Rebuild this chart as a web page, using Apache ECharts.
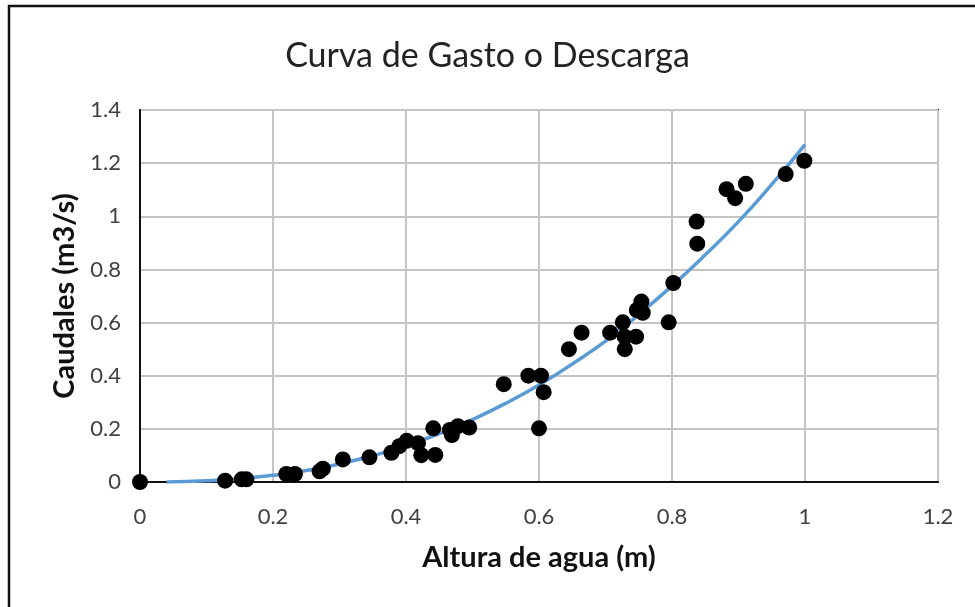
<!DOCTYPE html>
<html>
<head>
<meta charset="utf-8">
<script src="https://cdn.jsdelivr.net/npm/echarts@6/dist/echarts.min.js"></script>
<style>html,body{margin:0;padding:0;background:#fff;}#c{width:975px;height:607px;}</style>
</head>
<body>
<div id="c"></div>
<script>
var chartTitle = "Curva de Gasto o Descarga";
var xName = "Altura de agua (m)";
var yName = "Caudales (m3/s)";
var alturas = [0, 0.128, 0.153, 0.16, 0.22, 0.233, 0.27, 0.275, 0.305, 0.345, 0.378, 0.39, 0.401, 0.418, 0.423, 0.444, 0.441, 0.466, 0.469, 0.478, 0.495, 0.547, 0.584, 0.603, 0.607, 0.6, 0.645, 0.664, 0.707, 0.726, 0.729, 0.729, 0.746, 0.747, 0.754, 0.756, 0.795, 0.802, 0.837, 0.838, 0.882, 0.895, 0.911, 0.971, 0.999];
var caudales = [0, 0.005, 0.01, 0.01, 0.03, 0.03, 0.04, 0.05, 0.085, 0.093, 0.11, 0.135, 0.155, 0.146, 0.101, 0.102, 0.202, 0.196, 0.177, 0.21, 0.205, 0.368, 0.4, 0.4, 0.338, 0.202, 0.5, 0.562, 0.562, 0.601, 0.547, 0.5, 0.547, 0.647, 0.679, 0.637, 0.601, 0.749, 0.98, 0.897, 1.102, 1.068, 1.122, 1.159, 1.209];
var trendX = [0.04, 0.1, 0.15, 0.2, 0.25, 0.3, 0.35, 0.4, 0.45, 0.5, 0.55, 0.6, 0.65, 0.7, 0.75, 0.8, 0.85, 0.9, 0.95, 1.0];
var trendY = [0.0, 0.005, 0.013, 0.025, 0.043, 0.068, 0.099, 0.136, 0.182, 0.235, 0.296, 0.365, 0.444, 0.53, 0.63, 0.738, 0.855, 0.98, 1.12, 1.27];

var pts = alturas.map(function (x, i) { return [x, caudales[i]]; });
var trend = trendX.map(function (x, i) { return [x, trendY[i]]; });

var font = "Lato, 'Open Sans', sans-serif";
var chart = echarts.init(document.getElementById('c'), null, {renderer: 'canvas'});
chart.setOption({
  backgroundColor: '#fff',
  animation: false,
  title: {
    text: chartTitle, left: 'center', top: 34,
    textStyle: {fontFamily: font, fontSize: 34, fontWeight: 'normal', color: '#222'}
  },
  graphic: [{
    type: 'rect', z: -1, silent: true,
    shape: {x: 9, y: 6, width: 1100, height: 800},
    style: {fill: 'none', stroke: '#111', lineWidth: 2.5}
  }],
  grid: {left: 140, right: 37, top: 110, bottom: 125, show: true, borderColor: '#111', borderWidth: 2, backgroundColor: '#fff'},
  xAxis: {
    type: 'value', min: 0, max: 1.2, interval: 0.2,
    name: xName, nameLocation: 'middle', nameGap: 61,
    nameTextStyle: {fontFamily: font, fontSize: 29, fontWeight: 'bold', color: '#111'},
    axisLine: {show: true, onZero: false, lineStyle: {color: '#111', width: 2}},
    axisTick: {show: false},
    axisLabel: {fontFamily: font, fontSize: 22, color: '#404040', margin: 24},
    splitLine: {show: true, lineStyle: {color: '#c4c4c4', width: 2}}
  },
  yAxis: {
    type: 'value', min: 0, max: 1.4, interval: 0.2,
    name: yName, nameLocation: 'middle', nameGap: 55,
    nameTextStyle: {fontFamily: font, fontSize: 29, fontWeight: 'bold', color: '#111'},
    axisLine: {show: true, onZero: false, lineStyle: {color: '#111', width: 2}},
    axisTick: {show: false},
    axisLabel: {fontFamily: font, fontSize: 22, color: '#404040', margin: 19},
    splitLine: {show: true, lineStyle: {color: '#c4c4c4', width: 2}}
  },
  series: [{
    type: 'line', data: trend, smooth: true, showSymbol: false, symbol: 'none',
    lineStyle: {color: '#5b9bd5', width: 3.5}, z: 3
  }, {
    type: 'scatter', data: pts, symbolSize: 16,
    itemStyle: {color: '#000', opacity: 1}, z: 4
  }]
});
</script>
</body>
</html>
